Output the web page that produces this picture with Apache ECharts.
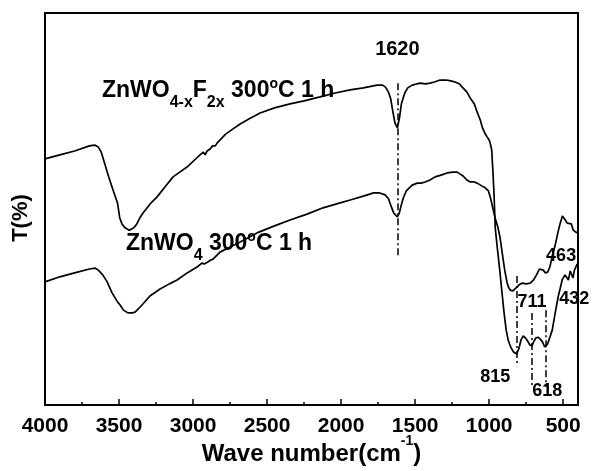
<!DOCTYPE html>
<html><head><meta charset="utf-8">
<script src="https://cdn.jsdelivr.net/npm/echarts@6/dist/echarts.min.js"></script>
<style>html,body{margin:0;padding:0;background:#fff}#c{width:592px;height:471px}</style>
</head><body><div id="c"></div>
<script>
// ---------- DATA ----------
// x: wave number (cm-1), y: transmittance (arbitrary %)
const znwoF = [[4000,62.8],[3900,63.8],[3800,64.8],[3700,66.1],[3665,66.3],[3640,65.8],[3620,64.5],[3600,62.0],[3570,58.2],[3540,54.8],[3510,51.5],[3495,47.7],[3480,46.2],[3460,45.2],[3430,44.6],[3400,45.2],[3380,46.2],[3360,47.7],[3338,49.0],[3290,51.3],[3243,53.1],[3190,55.6],[3135,58.2],[3090,59.4],[3041,60.7],[2990,62.5],[2953,63.8],[2930,64.5],[2918,63.8],[2905,64.8],[2885,65.3],[2868,66.1],[2850,66.1],[2838,66.8],[2780,69.1],[2720,70.7],[2682,71.7],[2620,73.0],[2547,74.5],[2450,75.8],[2345,76.8],[2250,77.6],[2142,78.6],[2040,79.6],[1939,80.4],[1850,80.9],[1757,81.6],[1720,81.6],[1700,81.1],[1680,79.8],[1665,78.1],[1650,74.7],[1636,71.9],[1620,70.7],[1606,73.2],[1592,77.0],[1570,79.6],[1550,80.9],[1520,81.6],[1490,81.9],[1466,82.1],[1430,81.9],[1399,82.1],[1370,82.4],[1331,82.9],[1290,82.9],[1260,82.7],[1230,82.4],[1200,81.9],[1182,81.1],[1150,79.8],[1128,78.3],[1100,76.8],[1081,74.7],[1060,72.7],[1047,70.9],[1030,69.4],[1014,68.4],[1000,67.6],[993,66.8],[983,65.1],[975,59.9],[967,53.6],[959,45.2],[945,40.1],[930,34.9],[915,29.3],[900,23.7],[885,19.1],[872,16.6],[855,14.8],[835,13.5],[815,13.0],[800,14.3],[785,16.6],[770,17.6],[755,17.1],[740,16.3],[725,15.3],[711,15.1],[700,16.1],[685,17.1],[670,17.3],[655,16.8],[640,16.1],[625,14.8],[618,14.5],[605,15.6],[590,17.3],[574,19.1],[554,23.5],[534,27.6],[520,29.8],[507,31.9],[488,33.2],[465,31.9],[452,34.2],[434,32.4],[424,34.4],[405,36.0]];
const znwo = [[4000,31.4],[3900,32.7],[3800,33.7],[3700,34.7],[3660,34.9],[3640,34.4],[3610,33.2],[3580,31.4],[3547,28.6],[3510,26.3],[3493,25.5],[3470,24.2],[3440,23.5],[3410,23.5],[3392,23.7],[3370,24.5],[3345,25.5],[3291,27.8],[3223,29.6],[3160,30.9],[3108,31.9],[3040,33.7],[2973,35.2],[2940,36.2],[2925,36.0],[2915,35.5],[2900,36.5],[2880,37.0],[2865,37.2],[2850,37.8],[2818,39.0],[2750,40.3],[2682,41.6],[2568,43.9],[2450,45.7],[2345,47.2],[2230,48.7],[2122,50.3],[2030,51.3],[1939,52.3],[1850,53.3],[1780,54.1],[1740,54.1],[1703,53.6],[1680,52.6],[1665,51.0],[1645,49.0],[1620,48.0],[1608,48.8],[1595,50.8],[1580,52.8],[1560,54.6],[1520,56.1],[1486,56.6],[1460,56.6],[1432,56.9],[1400,57.4],[1365,58.2],[1320,58.7],[1284,59.2],[1245,59.4],[1216,59.4],[1195,58.9],[1176,58.4],[1150,57.4],[1128,56.9],[1100,56.9],[1081,56.6],[1050,55.9],[1027,55.4],[1005,54.6],[993,53.1],[980,51.0],[965,48.5],[950,46.4],[940,45.2],[926,42.6],[910,38.3],[895,34.4],[880,31.4],[870,30.1],[858,29.3],[840,29.1],[820,29.8],[800,30.6],[777,31.1],[750,30.9],[723,31.1],[700,31.9],[680,33.2],[660,34.7],[650,34.9],[635,34.4],[620,33.7],[605,33.9],[590,35.2],[575,37.8],[554,40.8],[535,44.1],[520,46.4],[505,48.2],[498,48.5],[486,47.2],[473,46.4],[460,46.7],[445,46.2],[432,44.6],[415,44.1],[400,43.9]];
const majorTicks = [4000,3500,3000,2500,2000,1500,1000,500];
const minorTicks = [3750,3250,2750,2250,1750,1250,750];
const peakWavenumbers = [1620, 815, 711, 618];

// ---------- LAYOUT (positions in data coords) ----------
const FONT = '"Liberation Sans", Arial, Helvetica, sans-serif';
const peakLineSpan = {1620:[82.1,37.5], 815:[32.9,9.9], 711:[23.5,4.6], 618:[24.2,4.6]};
const labels = [
  {pieces:[{t:'ZnWO',fs:23},{t:'4-x',fs:16,dy:9},{t:'F',fs:23},{t:'2x',fs:16,dy:9},{t:' 300',fs:23},{t:'o',fs:14,dy:-10},{t:'C 1 h',fs:23}], at:[3615,78.1], align:'left'},
  {pieces:[{t:'ZnWO',fs:23},{t:'4',fs:16,dy:9},{t:' 300',fs:23},{t:'o',fs:14,dy:-10},{t:'C 1 h',fs:23}], at:[3453,39.0], align:'left'},
  {pieces:[{t:'1620',fs:20}], at:[1620,88.8], align:'center'},
  {pieces:[{t:'815',fs:18}], at:[858,5.6], align:'right'},
  {pieces:[{t:'711',fs:18}], at:[711,24.7], align:'center'},
  {pieces:[{t:'618',fs:18}], at:[608,2.0], align:'center'},
  {pieces:[{t:'463',fs:18}], at:[514,36.5], align:'center'},
  {pieces:[{t:'432',fs:18}], at:[426,25.5], align:'center'},
  {pieces:[{t:'Wave number(cm',fs:24},{t:'-1',fs:14,dy:-17},{t:')',fs:24}], at:[2200,-14.8], align:'center'}
];
const yName = {text:'T(%)', fs:22, at:[4162,47.7]};

const chart = echarts.init(document.getElementById('c'));
const lineStyle = {color:'#000', width:1.7};
const dashType = [7,3,2,3];

const option = {
  animation:false,
  backgroundColor:'#fff',
  grid:[
    {left:45,right:14,top:13,bottom:66,show:true,borderColor:'#000',borderWidth:2,backgroundColor:'transparent'},
    {left:45,right:14,top:13,bottom:66,show:false}
  ],
  xAxis:[
    {gridIndex:0,type:'value',min:400,max:4000,inverse:true,
     axisLine:{show:false}, splitLine:{show:false},
     axisTick:{show:true,inside:true,length:6,customValues:majorTicks,lineStyle:{color:'#000',width:1.5}},
     axisLabel:{customValues:majorTicks,margin:11,fontSize:21,fontWeight:'bold',fontFamily:FONT,color:'#000',formatter:v=>String(v)}},
    {gridIndex:1,type:'value',min:400,max:4000,inverse:true,
     axisLine:{show:false}, splitLine:{show:false}, axisLabel:{show:false},
     axisTick:{show:true,inside:true,length:3,customValues:minorTicks,lineStyle:{color:'#000',width:1.5}}}
  ],
  yAxis:[
    {gridIndex:0,type:'value',min:0,max:100,
     axisLine:{show:false},axisTick:{show:false},axisLabel:{show:false},splitLine:{show:false}},
    {gridIndex:1,type:'value',min:0,max:100,show:false}
  ],
  series:[
    {type:'line',name:'ZnWO4-xF2x',xAxisIndex:0,yAxisIndex:0,data:znwoF,showSymbol:false,lineStyle:lineStyle,silent:true,
     markLine:{silent:true,symbol:['none','none'],label:{show:false},lineStyle:{color:'#000',width:1.5,type:dashType},
       data:peakWavenumbers.map(w=>[{coord:[w,peakLineSpan[w][0]]},{coord:[w,peakLineSpan[w][1]]}])}},
    {type:'line',name:'ZnWO4',xAxisIndex:0,yAxisIndex:0,data:znwo,showSymbol:false,lineStyle:lineStyle,silent:true}
  ]
};
chart.setOption(option);

const ctx = document.createElement('canvas').getContext('2d');
function pw(t,fs){ctx.font='bold '+fs+'px '+FONT;return ctx.measureText(t).width;}
const elements = [];
labels.forEach(L=>{
  const p = chart.convertToPixel({xAxisIndex:0,yAxisIndex:0}, L.at);
  const total = L.pieces.reduce((s,q)=>s+pw(q.t,q.fs),0);
  let x = L.align==='right'? p[0]-total : L.align==='center'? p[0]-total/2 : p[0];
  L.pieces.forEach(q=>{
    elements.push({type:'text',silent:true,x:x,y:p[1]+(q.dy||0)-0.3465*q.fs,
      style:{text:q.t,font:'bold '+q.fs+'px '+FONT,fill:'#000',textAlign:'left',textVerticalAlign:'middle',align:'left',verticalAlign:'middle'}});
    x += pw(q.t,q.fs);
  });
});
const yp = chart.convertToPixel({xAxisIndex:0,yAxisIndex:0}, yName.at);
elements.push({type:'text',silent:true,x:yp[0],y:yp[1],rotation:Math.PI/2,
  style:{text:yName.text,font:'bold '+yName.fs+'px '+FONT,fill:'#000',textAlign:'center',textVerticalAlign:'middle',align:'center',verticalAlign:'middle'}});
chart.setOption({graphic:elements});
</script></body></html>
